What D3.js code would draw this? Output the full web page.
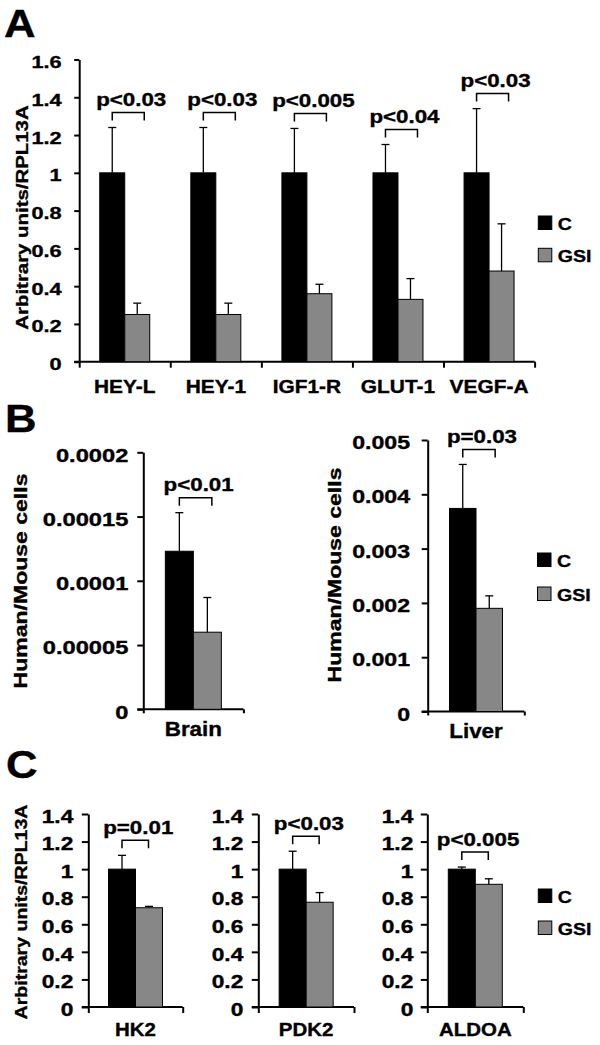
<!DOCTYPE html>
<html>
<head>
<meta charset="utf-8">
<script src="https://cdn.jsdelivr.net/npm/d3@7"></script>
<style>
  html, body { margin: 0; padding: 0; background: #fff; }
  text { font-family: "Liberation Sans", Arial, sans-serif; font-weight: bold; fill: #000; stroke: #000; stroke-width: 0.35px; }
</style>
</head>
<body>
<script>
// ---------------- DATA ----------------
const series = ["C", "GSI"];

// Panel A
const aCats = ["HEY-L", "HEY-1", "IGF1-R", "GLUT-1", "VEGF-A"];
const aC = [1, 1, 1, 1, 1];
const aCErr = [1.24, 1.24, 1.235, 1.15, 1.34];
const aG = [0.25, 0.25, 0.36, 0.33, 0.48];
const aGErr = [0.31, 0.31, 0.41, 0.44, 0.73];
const aP = ["p<0.03", "p<0.03", "p<0.005", "p<0.04", "p<0.03"];
const aTicks = [0, 0.2, 0.4, 0.6, 0.8, 1, 1.2, 1.4, 1.6];
const aTickLabels = ["0", "0.2", "0.4", "0.6", "0.8", "1", "1.2", "1.4", "1.6"];

// Panel B - Brain
const brainCats = ["Brain"];
const brainC = [0.000123];
const brainCErr = [0.000153];
const brainG = [0.00006];
const brainGErr = [0.000087];
const brainP = ["p<0.01"];
const brainTicks = [0, 0.00005, 0.0001, 0.00015, 0.0002];
const brainTickLabels = ["0", "0.00005", "0.0001", "0.00015", "0.0002"];

// Panel B - Liver
const liverCats = ["Liver"];
const liverC = [0.00374];
const liverCErr = [0.00455];
const liverG = [0.0019];
const liverGErr = [0.00213];
const liverP = ["p=0.03"];
const liverTicks = [0, 0.001, 0.002, 0.003, 0.004, 0.005];
const liverTickLabels = ["0", "0.001", "0.002", "0.003", "0.004", "0.005"];

// Panel C
const cCats = ["HK2", "PDK2", "ALDOA"];
const cC = [1, 1, 1];
const cCErr = [1.1, 1.13, 1.015];
const cG = [0.72, 0.76, 0.89];
const cGErr = [0.73, 0.83, 0.93];
const cP = ["p=0.01", "p<0.03", "p<0.005"];
const cTicks = [0, 0.2, 0.4, 0.6, 0.8, 1, 1.2, 1.4];
const cTickLabels = ["0", "0.2", "0.4", "0.6", "0.8", "1", "1.2", "1.4"];

// ---------------- DRAWING ----------------
const GREY = "#878787";
const svg = d3.select("body").append("svg").attr("width", 600).attr("height", 1045);

function T(x, y, s, fs, k, anchor = "middle", rot = 0) {
  return svg.append("text")
    .attr("transform", `translate(${x},${y})${rot ? ` rotate(${rot})` : ""} scale(${k},1)`)
    .attr("text-anchor", anchor)
    .attr("font-size", fs)
    .text(s);
}

function drawChart(cfg) {
  const n = cfg.cats.length;
  const step = (cfg.x1 - cfg.x0) / n;
  const p = 1 - 2 * cfg.barW / step;
  const x = d3.scaleBand().domain(cfg.cats).range([cfg.x0, cfg.x1]).paddingInner(p).paddingOuter(p / 2);
  const xs = d3.scaleBand().domain(series).range([0, x.bandwidth()]);
  const y = d3.scaleLinear().domain([0, cfg.ymax]).range([cfg.y0, cfg.y1]);

  // y axis
  const gy = svg.append("g").attr("transform", `translate(${cfg.x0},0)`)
    .call(d3.axisLeft(y).tickValues(cfg.ticks).tickFormat((d, i) => cfg.tickLabels[i])
      .tickSize(cfg.yTick).tickSizeOuter(0));
  gy.selectAll("path,line").attr("stroke", "#000").attr("stroke-width", 2);
  gy.selectAll("text").attr("x", 0).attr("dy", "0.47em")
    .attr("font-size", cfg.tickFs)
    .attr("transform", `translate(${-cfg.tickGap},0) scale(${cfg.tickK},1)`);

  // x axis (boundary ticks)
  const xl = d3.scaleLinear().domain([0, n]).range([cfg.x0, cfg.x1]);
  const gx = svg.append("g").attr("transform", `translate(0,${cfg.y0})`)
    .call(d3.axisBottom(xl).tickValues(d3.range(n + 1)).tickFormat("").tickSize(cfg.xTick).tickSizeOuter(0));
  gx.selectAll("path,line").attr("stroke", "#000").attr("stroke-width", 2);
  gx.select("path").attr("d", `M${cfg.x0 - cfg.yTick},0H${cfg.x1}`);

  const vals = { C: cfg.C, GSI: cfg.G };
  const errs = { C: cfg.CErr, GSI: cfg.GErr };

  cfg.cats.forEach((cat, i) => {
    series.forEach(s => {
      const bx = x(cat) + xs(s);
      const v = vals[s][i];
      svg.append("rect")
        .attr("x", bx).attr("y", y(v))
        .attr("width", xs.bandwidth()).attr("height", y(0) - y(v))
        .attr("fill", s === "C" ? "#000" : GREY)
        .attr("stroke", "#000").attr("stroke-width", 1);
      const cx = bx + xs.bandwidth() / 2;
      const e = errs[s][i];
      svg.append("line").attr("x1", cx).attr("x2", cx).attr("y1", y(v)).attr("y2", y(e))
        .attr("stroke", "#000").attr("stroke-width", 1.3);
      svg.append("line").attr("x1", cx - 4).attr("x2", cx + 4).attr("y1", y(e)).attr("y2", y(e))
        .attr("stroke", "#000").attr("stroke-width", 1.3);
    });
    // bracket
    const bx0 = x(cat) + xs("C") + xs.bandwidth() / 2;
    const bx1 = bx0 + cfg.bracketW;
    const top = Math.min(y(cfg.CErr[i]), y(cfg.GErr[i]));
    const legB = top - 7, legT = legB - 8;
    svg.append("path")
      .attr("d", `M${bx0},${legB}V${legT}H${bx1}V${legB}`)
      .attr("fill", "none").attr("stroke", "#000").attr("stroke-width", 1.5);
    T((bx0 + bx1) / 2 + 3, legT - 6.5, cfg.P[i], 18, 1.24);
    // category label
    T(x(cat) + x.bandwidth() / 2, cfg.labY, cat, cfg.labFs, cfg.labK);
  });
}

function legend(bx, yC, yG) {
  [["C", "#000", yC], ["GSI", GREY, yG]].forEach(([lab, col, yy]) => {
    svg.append("rect").attr("x", bx).attr("y", yy).attr("width", 13.5).attr("height", 13.5)
      .attr("fill", col).attr("stroke", "#000").attr("stroke-width", 1);
    T(bx + 19.5, yy + 13.5, lab, 17, 1.15, "start");
  });
}

// Panel letters
T(4, 36.7, "A", 38, 1.15, "start");
T(5, 431.7, "B", 38, 1.15, "start");
T(6, 778, "C", 38, 1.15, "start");

// Panel A
drawChart({
  cats: aCats, C: aC, CErr: aCErr, G: aG, GErr: aGErr, P: aP,
  ticks: aTicks, tickLabels: aTickLabels,
  x0: 79.2, x1: 534.6, y0: 361.7, y1: 59.5, ymax: 1.6, barW: 25,
  tickFs: 17, tickK: 1.28, tickGap: 17.5, yTick: 5, xTick: 6,
  labFs: 18.5, labK: 1.13, labY: 393.3, bracketW: 32
});
T(28, 217.5, "Arbitrary units/RPL13A", 17, 1.2, "middle", -90);
legend(538.3, 216, 248.3);

// Panel B - Brain
drawChart({
  cats: brainCats, C: brainC, CErr: brainCErr, G: brainG, GErr: brainGErr, P: brainP,
  ticks: brainTicks, tickLabels: brainTickLabels,
  x0: 143.3, x1: 243.4, y0: 709.3, y1: 452.3, ymax: 0.0002, barW: 28,
  tickFs: 18.5, tickK: 1.28, tickGap: 15, yTick: 6, xTick: 4,
  labFs: 19.5, labK: 1.15, labY: 736, bracketW: 32.5
});
T(27, 581, "Human/Mouse cells", 18, 1.28, "middle", -90);

// Panel B - Liver
drawChart({
  cats: liverCats, C: liverC, CErr: liverCErr, G: liverG, GErr: liverGErr, P: liverP,
  ticks: liverTicks, tickLabels: liverTickLabels,
  x0: 427.7, x1: 524.3, y0: 711.5, y1: 440, ymax: 0.005, barW: 26.5,
  tickFs: 18.5, tickK: 1.25, tickGap: 17.7, yTick: 6, xTick: 4,
  labFs: 19.5, labK: 1.15, labY: 738.3, bracketW: 32.4
});
T(341, 575, "Human/Mouse cells", 18, 1.28, "middle", -90);
legend(537.5, 553, 587);

// Panel C
const cX0 = [88.3, 258.3, 427.3];
const cX1 = [182.7, 354, 523.3];
const cGap = [15, 15, 14];
cCats.forEach((cat, i) => {
  drawChart({
    cats: [cat], C: [cC[i]], CErr: [cCErr[i]], G: [cG[i]], GErr: [cGErr[i]], P: [cP[i]],
    ticks: cTicks, tickLabels: cTickLabels,
    x0: cX0[i], x1: cX1[i], y0: 1007, y1: 814, ymax: 1.4, barW: 27,
    tickFs: 17.5, tickK: 1.3, tickGap: cGap[i], yTick: 6.5, xTick: 6,
    labFs: 17.5, labK: 1.17, labY: 1035.5, bracketW: 26.5
  });
});
T(26.5, 912, "Arbitrary units/RPL13A", 17, 1.15, "middle", -90);
legend(538.3, 889, 921);
</script>
</body>
</html>
